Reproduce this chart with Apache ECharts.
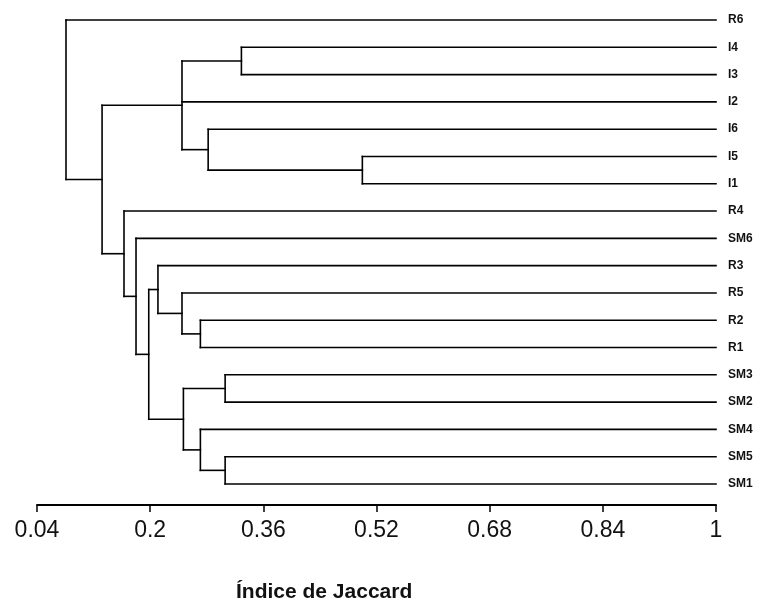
<!DOCTYPE html>
<html>
<head>
<meta charset="utf-8">
<script src="https://cdn.jsdelivr.net/npm/echarts@6/dist/echarts.min.js"></script>
<style>html,body{margin:0;padding:0;background:#fff}#c{width:764px;height:609px}</style>
</head>
<body>
<div id="c"></div>
<script>
// Leaves, top to bottom
const leaves = ['R6','I4','I3','I2','I6','I5','I1','R4','SM6','R3','R5','R2','R1','SM3','SM2','SM4','SM5','SM1'];
// Internal nodes: id, children, Jaccard similarity at which they join
const nodeIds = ['n1','n2','n3','n4','n5','n6','n7','n8','n9','n10','n11','n12','n13','n14','n15','n16'];
const nodeChildren = [
  ['I5','I1'],
  ['I4','I3'],
  ['I6','n1'],
  ['n2','I2','n3'],
  ['R2','R1'],
  ['R5','n5'],
  ['R3','n6'],
  ['SM3','SM2'],
  ['SM5','SM1'],
  ['SM4','n9'],
  ['n8','n10'],
  ['n7','n11'],
  ['SM6','n12'],
  ['R4','n13'],
  ['n4','n14'],
  ['R6','n15']
];
const nodeHeights = [0.500,0.329,0.282,0.245,0.271,0.245,0.211,0.306,0.306,0.271,0.247,0.198,0.180,0.163,0.132,0.081];
const tickLabels = ['0.04','0.2','0.36','0.52','0.68','0.84','1'];
const axisMin = 0.04, axisMax = 1, axisStep = 0.16;

// Layout: position of each leaf / node
const pos = {};
leaves.forEach((l, i) => { pos[l] = { x: axisMax, y: i }; });
nodeIds.forEach((id, k) => {
  const ch = nodeChildren[k].map(c => pos[c]);
  const ys = ch.map(p => p.y);
  pos[id] = { x: nodeHeights[k], y: (Math.min(...ys) + Math.max(...ys)) / 2 };
});
const segments = [];
nodeIds.forEach((id, k) => {
  const p = pos[id];
  const ch = nodeChildren[k].map(c => pos[c]);
  const ys = ch.map(q => q.y);
  segments.push([p.x, Math.min(...ys), p.x, Math.max(...ys)]);
  ch.forEach(q => segments.push([p.x, q.y, q.x, q.y]));
});

const chart = echarts.init(document.getElementById('c'), null, { renderer: 'canvas' });
chart.setOption({
  animation: false,
  backgroundColor: '#ffffff',
  title: {
    text: 'Índice de Jaccard',
    left: 231, top: 577,
    textStyle: { fontFamily: 'Liberation Sans, Arial, sans-serif', fontSize: 21, fontWeight: 'bold', color: '#111' }
  },
  grid: { left: 37, right: 48, top: 20, bottom: 125 },
  xAxis: {
    type: 'value', min: axisMin, max: axisMax, interval: axisStep,
    position: 'bottom',
    offset: 21,
    axisLine: { show: true, onZero: false, lineStyle: { color: '#000', width: 2 } },
    axisTick: { show: true, length: 7, lineStyle: { color: '#000', width: 1.5 } },
    splitLine: { show: false },
    axisLabel: {
      margin: 14,
      fontFamily: 'Liberation Sans, Arial, sans-serif', fontSize: 23, color: '#111',
      formatter: v => tickLabels[Math.round((v - axisMin) / axisStep)]
    }
  },
  yAxis: [
    { type: 'value', min: 0, max: leaves.length - 1, inverse: true, show: false },
    {
      type: 'category', data: leaves, inverse: true, boundaryGap: false, position: 'right',
      axisLine: { show: false }, axisTick: { show: false }, splitLine: { show: false },
      axisLabel: { margin: 12, fontFamily: 'Liberation Sans, Arial, sans-serif', fontSize: 12, fontWeight: 'bold', color: '#111' }
    }
  ],
  series: [{
    type: 'custom',
    yAxisIndex: 0,
    data: segments,
    encode: { x: [0, 2], y: [1, 3] },
    renderItem: (params, api) => {
      const a = api.coord([api.value(0), api.value(1)]);
      const b = api.coord([api.value(2), api.value(3)]);
      return { type: 'line', shape: { x1: a[0], y1: a[1], x2: b[0], y2: b[1] },
               style: { stroke: '#000', lineWidth: 1.6, lineCap: 'square' } };
    }
  }]
});
</script>
</body>
</html>
